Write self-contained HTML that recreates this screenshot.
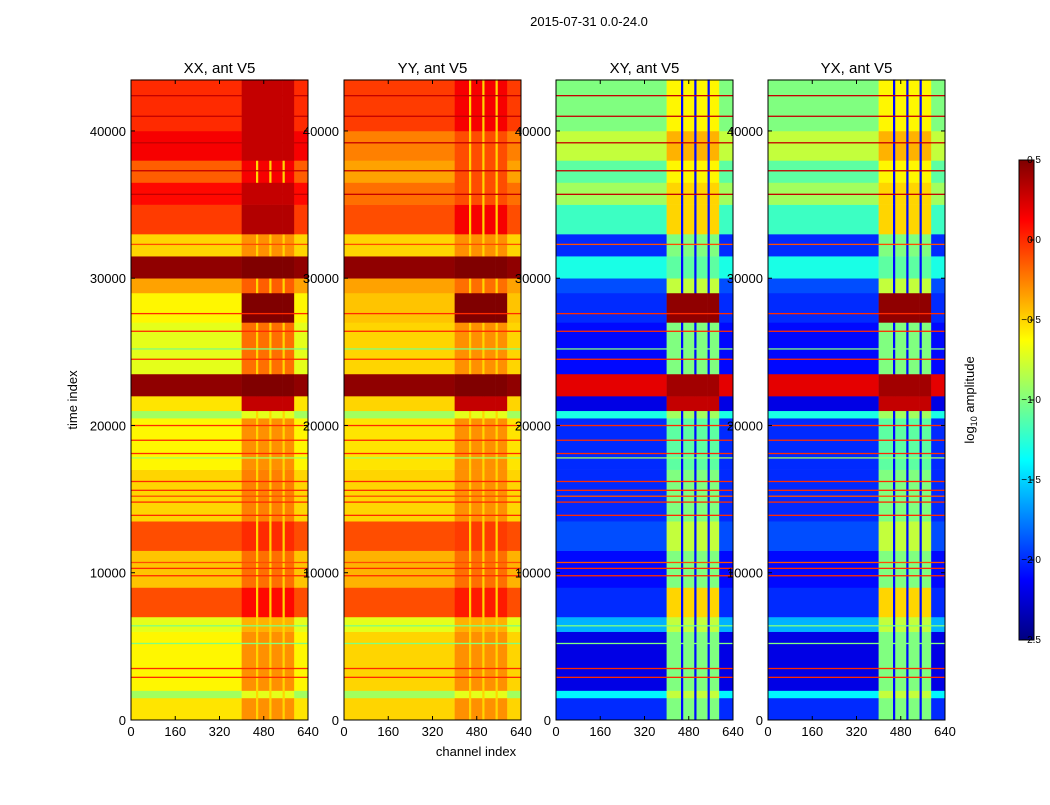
<!DOCTYPE html>
<html><head><meta charset="utf-8"><style>
body{margin:0;background:#fff;font-family:"Liberation Sans",sans-serif;}
svg text{font-family:"Liberation Sans",sans-serif;}
</style></head><body>
<svg id="fig" width="1050" height="800" xmlns="http://www.w3.org/2000/svg">
<defs><linearGradient id="jetg" x1="0" y1="1" x2="0" y2="0">
<stop offset="0" stop-color="#00007f"/><stop offset="0.125" stop-color="#0000ff"/><stop offset="0.375" stop-color="#00ffff"/><stop offset="0.5" stop-color="#80ff80"/><stop offset="0.625" stop-color="#ffff00"/><stop offset="0.875" stop-color="#ff0000"/><stop offset="1" stop-color="#7f0000"/></linearGradient></defs>
<text x="589" y="26" font-size="13" text-anchor="middle">2015-07-31 0.0-24.0</text>
<text x="476" y="756" font-size="13" text-anchor="middle">channel index</text>
<text transform="translate(77,400) rotate(-90)" font-size="13" text-anchor="middle">time index</text>
<g id="cbar">
<rect x="1019" y="160" width="15" height="480" fill="url(#jetg)" stroke="#000" stroke-width="1"/>
</g>
<text transform="translate(974,400) rotate(-90)" font-size="13" text-anchor="middle">log<tspan font-size="9" dy="3">10</tspan><tspan dy="-3"> amplitude</tspan></text>
</svg>
<script>
const bandEdges=[0,1500,2000,6000,7000,9000,11500,13500,17000,20500,21000,22000,23500,27000,29000,30000,31500,33000,35000,36500,38000,40000,43500];
const xxLeft=[-0.55,-0.9,-0.6,-0.7,-0.1,-0.45,-0.1,-0.5,-0.6,-0.9,-0.55,0.45,-0.7,-0.6,-0.35,0.45,-0.5,-0.05,0.1,-0.15,0.15,0.0];
const xxRight=[-0.3,-0.7,-0.3,-0.4,0.1,-0.2,0.0,-0.25,-0.3,-0.7,0.3,0.5,-0.2,0.5,-0.15,0.5,-0.3,0.35,0.3,0.15,0.3,0.3];
const yyLeft=[-0.5,-0.9,-0.5,-0.7,-0.1,-0.4,-0.1,-0.5,-0.55,-0.9,-0.5,0.45,-0.5,-0.45,-0.35,0.45,-0.5,-0.1,-0.2,-0.35,-0.25,-0.05];
const yyRight=[-0.3,-0.7,-0.3,-0.4,0.05,-0.2,-0.05,-0.3,-0.3,-0.7,0.3,0.5,-0.3,0.5,-0.2,0.5,-0.3,0.15,-0.1,-0.1,-0.1,0.15];
const xyLeft=[-2.0,-1.4,-2.2,-1.6,-2.0,-2.1,-1.9,-2.0,-2.0,-1.3,-2.2,0.2,-2.1,-2.0,-1.9,-1.3,-2.0,-1.2,-0.9,-1.1,-0.8,-1.0];
const xyRight=[-1.0,-0.8,-1.0,-0.8,-0.5,-1.0,-0.8,-1.0,-1.1,-0.9,0.3,0.4,-1.0,0.45,-0.8,-1.1,-1.0,-0.5,-0.5,-0.6,-0.4,-0.6];
const yxLeft=[-2.0,-1.4,-2.2,-1.6,-2.0,-2.1,-1.9,-2.0,-2.0,-1.3,-2.2,0.2,-2.1,-2.0,-1.9,-1.3,-2.0,-1.2,-0.9,-1.1,-0.8,-1.0];
const yxRight=[-1.0,-0.8,-1.0,-0.8,-0.5,-1.0,-0.8,-1.0,-1.1,-0.9,0.3,0.4,-1.0,0.45,-0.8,-1.1,-1.0,-0.5,-0.5,-0.6,-0.4,-0.6];
const colEdges=[0,400,452,460,500,508,548,556,590,640];
const colKind=['L','R','G','R','G','R','G','R','L'];
const gapValues=[-0.5,-0.5,-2.1,-2.1];
const lineTimes=[2900,3500,5200,6400,9800,10300,10700,13900,14800,15200,15600,16200,17800,18100,19000,20000,24500,25200,26400,27600,32300,35700,37300,39200,41000,42400];
const lineValues=[0.0,0.0,-1.0,-1.0,0.0,0.0,-0.1,0.0,0.0,-0.1,0.0,0.0,-0.9,0.0,0.0,0.0,0.0,-1.0,0.0,0.0,-0.1,0.3,0.3,0.3,0.3,0.3];
const panelTitles=['XX, ant V5','YY, ant V5','XY, ant V5','YX, ant V5'];
const xTicks=[0,160,320,480,640];
const yTicks=[0,10000,20000,30000,40000];
const cbTicks=[-2.5,-2.0,-1.5,-1.0,-0.5,0.0,0.5];

const NS='http://www.w3.org/2000/svg';
const svg=document.getElementById('fig');
const panels=[[131,xxLeft,xxRight],[344,yyLeft,yyRight],[556,xyLeft,xyRight],[768,yxLeft,yxRight]];
const PW=177,PT=80,PB=720,TMAX=43460,VMIN=-2.5,VMAX=0.5;
function jet(v){let t=(v-VMIN)/(VMAX-VMIN);t=Math.max(0,Math.min(1,t));
 const c=x=>Math.round(255*Math.max(0,Math.min(1,x)));
 const r=c(1.5-Math.abs(4*t-3)),g=c(1.5-Math.abs(4*t-2)),b=c(1.5-Math.abs(4*t-1));
 return `rgb(${r},${g},${b})`;}
function mk(tag,a,p){const e=document.createElementNS(NS,tag);for(const k in a)e.setAttribute(k,a[k]);(p||svg).appendChild(e);return e;}
const yS=t=>PB-(t/TMAX)*(PB-PT);
panels.forEach((P,pi)=>{
 const x0=P[0],L=P[1],R=P[2];const xS=c=>x0+c/640*PW;
 const g=mk('g',{});
 
 
 for(let b=0;b<bandEdges.length-1;b++){
  for(let s=0;s<colKind.length;s++){
   const k=colKind[s];const v=k==='L'?L[b]:k==='R'?R[b]:(R[b]>0.25?R[b]:gapValues[pi]);
   const r=mk('rect',{x:xS(colEdges[s]),y:yS(bandEdges[b+1]),width:xS(colEdges[s+1])-xS(colEdges[s])+0.3,height:yS(bandEdges[b])-yS(bandEdges[b+1])+0.3,fill:jet(v)},g);
   
   
  }
 }
 lineTimes.forEach((t,i)=>{
  const r=mk('rect',{x:x0,y:yS(t)-0.6,width:PW,height:1.3,fill:jet(lineValues[i])},g);
  
  
 });
 const fr=mk('rect',{x:x0,y:PT,width:PW,height:PB-PT,fill:'none',stroke:'#000','stroke-width':1});
 
 
 const tt=mk('text',{x:x0+PW/2,y:73,'font-size':15,'text-anchor':'middle'});tt.textContent=panelTitles[pi];
 
 
 xTicks.forEach(v=>{const x=xS(v);
  mk('line',{x1:x,x2:x,y1:PB,y2:PB-4,stroke:'#000'});mk('line',{x1:x,x2:x,y1:PT,y2:PT+4,stroke:'#000'});
  const t=mk('text',{x:x,y:PB+16,'font-size':13,'text-anchor':'middle'});t.textContent=v;
  
  });
 yTicks.forEach(v=>{const y=yS(v);
  mk('line',{x1:x0,x2:x0+4,y1:y,y2:y,stroke:'#000'});mk('line',{x1:x0+PW,x2:x0+PW-4,y1:y,y2:y,stroke:'#000'});
  const t=mk('text',{x:x0-5,y:y+5,'font-size':13,'text-anchor':'end'});t.textContent=v;
  
  });
});
cbTicks.forEach(v=>{const y=640-(v-VMIN)/(VMAX-VMIN)*480;
 mk('line',{x1:1030,x2:1034,y1:y,y2:y,stroke:'#000'});
 const t=mk('text',{x:1041,y:y+3,'font-size':10,'text-anchor':'end'});t.textContent=v.toFixed(1).replace('-','\u2212');
 
 });
</script>
</body></html>
